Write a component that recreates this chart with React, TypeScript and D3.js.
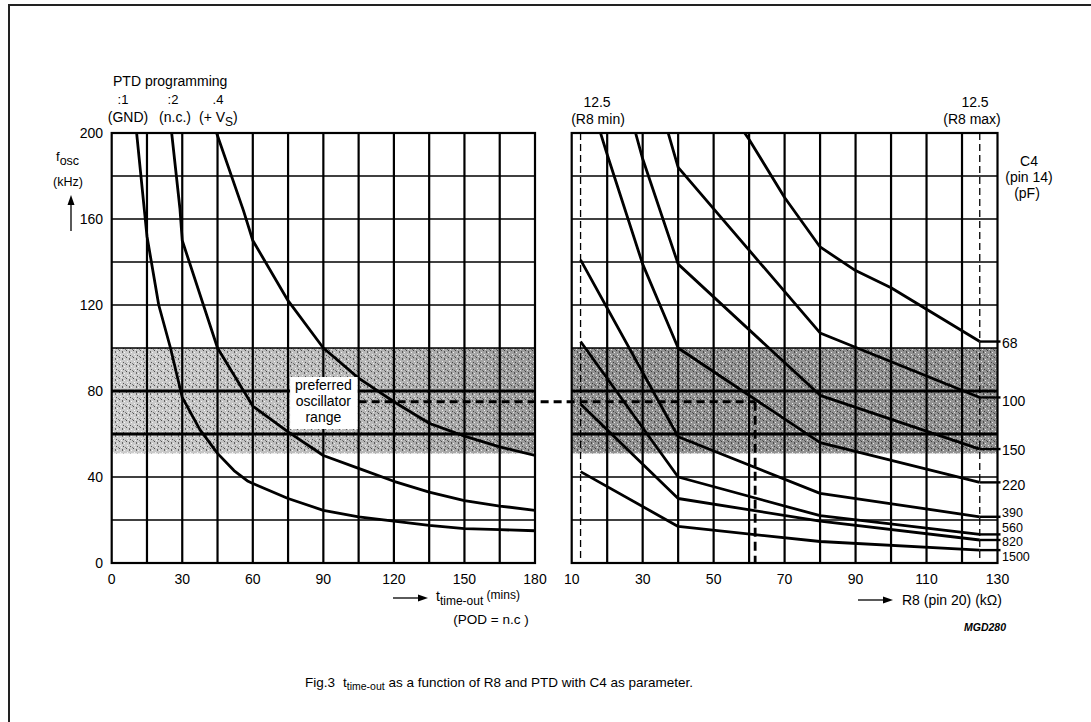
import React from "react";
import * as d3 from "d3";

// ---------- data ----------
const yTickValues = [0, 40, 80, 120, 160, 200];
const yGridValues = [20, 40, 60, 80, 100, 120, 140, 160, 180];
const leftTickValues = [0, 30, 60, 90, 120, 150, 180];
const leftGridValues = [15, 30, 45, 60, 75, 90, 105, 120, 135, 150, 165];
const rightTickValues = [10, 30, 50, 70, 90, 110, 130];
const rightGridValues = [20, 30, 40, 50, 60, 70, 80, 90, 100, 110, 120];

// left chart: f_osc (kHz) vs t_time-out (mins) for PTD programming
const ptd1: [number, number][] = [
  [10.6, 200], [15, 152], [20, 120], [25, 100], [30, 77], [37.5, 62], [45, 51], [52, 43], [58, 38], [60, 37],
  [75, 30], [90, 24.5], [105, 21.5], [120, 19.5], [135, 17.5], [150, 16], [165, 15.5], [180, 15],
];
const ptd2: [number, number][] = [
  [25.5, 200], [29, 165], [30, 150], [45, 100], [60, 73], [75, 61], [90, 50], [105, 44], [120, 38],
  [135, 33], [150, 29], [165, 26.5], [180, 24.5],
];
const ptd3: [number, number][] = [
  [44.6, 200], [56, 164], [60, 150], [75, 122], [90, 100], [105, 86], [120, 75], [135, 65], [150, 59],
  [165, 54], [180, 50],
];
const ptdCurves = [ptd1, ptd2, ptd3];
const ptdCodes = [":1", ":2", ".4"];

// right chart: f_osc (kHz) vs R8 (kOhm) for C4 values
const c68: [number, number][] = [[40, 245], [60, 197], [70, 170], [80, 147], [90, 136], [100, 128], [110, 118], [120, 108], [125, 103]];
const c100: [number, number][] = [[30, 241], [40, 184], [80, 107], [125, 77]];
const c150: [number, number][] = [[20, 243], [28, 200], [30, 188], [40, 139], [80, 78], [125, 53]];
const c220: [number, number][] = [[12.5, 230], [20, 190], [30, 139], [40, 100], [80, 56], [125, 37.5]];
const c390: [number, number][] = [[12.5, 141], [40, 58.7], [80, 32.4], [125, 21.5]];
const c560: [number, number][] = [[12.5, 103], [40, 40], [80, 22], [125, 13.3]];
const c820: [number, number][] = [[12.5, 74], [40, 30], [80, 19.5], [125, 10.7]];
const c1500: [number, number][] = [[12.5, 42.5], [40, 17], [80, 10], [125, 6]];
const c4Curves = [c68, c100, c150, c220, c390, c560, c820, c1500];
const c4Names = ["68", "100", "150", "220", "390", "560", "820", "1500"];
const c4LabelValues = [102.5, 75.5, 52.5, 36.5, 23.7, 16.7, 9.8, 2.8];

const band = [51, 100];
const bandLines = [60, 80];
const r8Min = 12.5;
const r8Max = 125;
const exampleT = 105;
const exampleF = 75;
const exampleR8 = 61.7;

// ---------- layout ----------
const W = 1091;
const H = 722;
const FONT = "'Liberation Sans', Arial, Helvetica, sans-serif";

const yS = d3.scaleLinear().domain([0, 200]).range([563, 133]);
const xL = d3.scaleLinear().domain([0, 180]).range([111.7, 535]);
const xR = d3.scaleLinear().domain([10, 130]).range([571.7, 997.5]);

const lineL = d3.line<[number, number]>().x((d) => xL(d[0])).y((d) => yS(d[1]));
const lineR = d3.line<[number, number]>().x((d) => xR(d[0])).y((d) => yS(d[1]));

export default function App() {
  const top = yS(200);
  const bot = yS(0);
  const lx0 = xL(0), lx1 = xL(180);
  const rx0 = xR(10), rx1 = xR(130);
  const bandTop = yS(band[1]);
  const bandBot = yS(band[0]);

  const txt = { fontFamily: FONT, fill: "#000" } as const;

  return (
    <svg width={W} height={H} style={{ position: "absolute", left: 0, top: 0, background: "#fff" }}>
      <defs>
        <linearGradient id="gradL" x1="0" x2="1" y1="0" y2="0">
          <stop offset="0" stopColor="#cdcdcd" />
          <stop offset="0.6" stopColor="#b8b8b8" />
          <stop offset="1" stopColor="#9a9a9a" />
        </linearGradient>
        <pattern id="stip" width="7" height="7" patternUnits="userSpaceOnUse">
          <rect x="0" y="0" width="1" height="1" fill="#000" opacity="0.6" />
          <rect x="3" y="1" width="1" height="2" fill="#000" opacity="0.5" />
          <rect x="5" y="2" width="1" height="1" fill="#fff" opacity="0.8" />
          <rect x="1" y="4" width="1" height="1" fill="#fff" opacity="0.8" />
          <rect x="4" y="5" width="1" height="1" fill="#000" opacity="0.6" />
          <rect x="6" y="6" width="1" height="1" fill="#000" opacity="0.4" />
          <rect x="2" y="6" width="1" height="1" fill="#fff" opacity="0.7" />
        </pattern>
        <clipPath id="clipL">
          <rect x={lx0} y={top} width={lx1 - lx0} height={bot - top} />
        </clipPath>
        <clipPath id="clipR">
          <rect x={rx0} y={top} width={rx1 - rx0} height={bot - top} />
        </clipPath>
      </defs>

      {/* outer frame */}
      <line x1={8} y1={5} x2={W} y2={5} stroke="#222" strokeWidth={2} />
      <line x1={9} y1={5} x2={9} y2={H} stroke="#222" strokeWidth={2} />

      {/* shaded preferred range */}
      <rect x={lx0} y={bandTop} width={lx1 - lx0} height={bandBot - bandTop} fill="url(#gradL)" />
      <rect x={lx0} y={bandTop} width={lx1 - lx0} height={bandBot - bandTop} fill="url(#stip)" />
      <rect x={rx0} y={bandTop} width={rx1 - rx0} height={bandBot - bandTop} fill="#929292" />
      <rect x={rx0} y={bandTop} width={rx1 - rx0} height={bandBot - bandTop} fill="url(#stip)" />

      {/* horizontal grid */}
      {yGridValues.map((v) => (
        <g key={"hg" + v}>
          <line x1={lx0} x2={lx1} y1={yS(v)} y2={yS(v)} stroke="#000" strokeWidth={bandLines.includes(v) ? 3 : 1.5} />
          <line x1={rx0} x2={rx1} y1={yS(v)} y2={yS(v)} stroke="#000" strokeWidth={bandLines.includes(v) ? 3 : 1.5} />
        </g>
      ))}
      {/* vertical grid */}
      {leftGridValues.map((v) => (
        <line key={"lv" + v} x1={xL(v)} x2={xL(v)} y1={top} y2={bot} stroke="#000" strokeWidth={2.2} />
      ))}
      {rightGridValues.map((v) => (
        <line key={"rv" + v} x1={xR(v)} x2={xR(v)} y1={top} y2={bot} stroke="#000" strokeWidth={2.2} />
      ))}

      {/* plot frames */}
      <rect x={lx0} y={top} width={lx1 - lx0} height={bot - top} fill="none" stroke="#000" strokeWidth={2.2} />
      <rect x={rx0} y={top} width={rx1 - rx0} height={bot - top} fill="none" stroke="#000" strokeWidth={2.2} />

      {/* R8 min / max dashed */}
      {[r8Min, r8Max].map((v) => (
        <line key={"r8" + v} x1={xR(v)} x2={xR(v)} y1={top} y2={bot} stroke="#000" strokeWidth={1.3} strokeDasharray="7,4" />
      ))}

      {/* curves */}
      <g clipPath="url(#clipL)">
        {ptdCurves.map((c, i) => (
          <path key={"p" + i} d={lineL(c) || ""} fill="none" stroke="#000" strokeWidth={2.8} strokeLinejoin="round" />
        ))}
      </g>
      <g clipPath="url(#clipR)">
        {c4Curves.map((c, i) => (
          <path key={"c" + i} d={lineR(c) || ""} fill="none" stroke="#000" strokeWidth={2.8} strokeLinejoin="round" />
        ))}
      </g>
      {/* curve end ticks to labels */}
      {c4Curves.map((c, i) => {
        const last = c[c.length - 1];
        return (
          <line key={"e" + i} x1={xR(last[0])} x2={rx1 + 3} y1={yS(last[1])} y2={yS(last[1])} stroke="#000" strokeWidth={2.4} />
        );
      })}

      {/* example construction */}
      <line x1={xL(exampleT)} x2={xR(exampleR8)} y1={yS(exampleF)} y2={yS(exampleF)} stroke="#000" strokeWidth={2.8} strokeDasharray="8,5" />
      <line x1={xR(exampleR8)} x2={xR(exampleR8)} y1={yS(exampleF)} y2={bot} stroke="#000" strokeWidth={2.8} strokeDasharray="9,5" />

      {/* preferred range box */}
      <rect x={xL(75) + 2} y={377} width={xL(105) - xL(75) - 3} height={52} fill="#fff" />
      <text {...txt} fontSize={14} textAnchor="middle">
        <tspan x={xL(90)} y={390}>preferred</tspan>
        <tspan x={xL(90)} y={406}>oscillator</tspan>
        <tspan x={xL(90)} y={422}>range</tspan>
      </text>

      {/* y ticks */}
      {yTickValues.map((v) => (
        <text key={"yt" + v} {...txt} fontSize={14} x={103} y={yS(v) + 5} textAnchor="end">{v}</text>
      ))}
      {/* x ticks */}
      {leftTickValues.map((v) => (
        <text key={"xl" + v} {...txt} fontSize={14} x={xL(v)} y={584} textAnchor="middle">{v}</text>
      ))}
      {rightTickValues.map((v) => (
        <text key={"xr" + v} {...txt} fontSize={14} x={xR(v)} y={584} textAnchor="middle">{v}</text>
      ))}

      {/* y axis title */}
      <text {...txt} fontSize={13} x={56} y={161}>
        f<tspan fontSize={12.5} dy={4}>osc</tspan>
      </text>
      <text {...txt} fontSize={12.5} x={68} y={186} textAnchor="middle">(kHz)</text>
      <line x1={71} x2={71} y1={231} y2={203} stroke="#000" strokeWidth={1.3} />
      <path d="M71,195 L67.5,205 L74.5,205 Z" fill="#000" />

      {/* PTD programming labels */}
      <text {...txt} fontSize={14} x={113} y={86}>PTD programming</text>
      {ptdCodes.map((c, i) => (
        <text key={"pc" + i} {...txt} fontSize={13} x={[123, 173, 218][i]} y={104} textAnchor="middle">{c}</text>
      ))}
      <text {...txt} fontSize={14} x={128} y={122} textAnchor="middle">(GND)</text>
      <text {...txt} fontSize={14} x={175} y={122} textAnchor="middle">(n.c.)</text>
      <text {...txt} fontSize={14} x={199} y={122}>
        (+ V<tspan fontSize={12} dy={4}>S</tspan><tspan dy={-4}>)</tspan>
      </text>

      {/* left x title */}
      <line x1={393} x2={419} y1={598} y2={598} stroke="#000" strokeWidth={1.3} />
      <path d="M428,598 L418,594.5 L418,601.5 Z" fill="#000" />
      <text {...txt} fontSize={14} x={436} y={601}>
        t<tspan fontSize={12} dy={4}>time-out</tspan><tspan fontSize={12} dy={-6}> (mins)</tspan>
      </text>
      <text {...txt} fontSize={13.5} x={491} y={624} textAnchor="middle">(POD = n.c )</text>

      {/* right x title */}
      <line x1={858} x2={884} y1={600} y2={600} stroke="#000" strokeWidth={1.3} />
      <path d="M893,600 L883,596.5 L883,603.5 Z" fill="#000" />
      <text {...txt} fontSize={14} x={902} y={605}>R8 (pin 20) (kΩ)</text>
      <text {...txt} fontSize={10.5} fontWeight="bold" fontStyle="italic" x={1006} y={631} textAnchor="end">MGD280</text>

      {/* R8 min / max labels */}
      <text {...txt} fontSize={14} x={597} y={107} textAnchor="middle">12.5</text>
      <text {...txt} fontSize={14} x={598} y={124} textAnchor="middle">(R8 min)</text>
      <text {...txt} fontSize={14} x={975} y={107} textAnchor="middle">12.5</text>
      <text {...txt} fontSize={14} x={972} y={124} textAnchor="middle">(R8 max)</text>

      {/* C4 title */}
      <text {...txt} fontSize={14} x={1029} y={166} textAnchor="middle">C4</text>
      <text {...txt} fontSize={14} x={1029} y={182} textAnchor="middle">(pin 14)</text>
      <text {...txt} fontSize={14} x={1027} y={198} textAnchor="middle">(pF)</text>
      {c4Names.map((n, i) => (
        <text key={"cl" + n} {...txt} fontSize={i >= 4 ? 12.5 : 14} x={1002} y={yS(c4LabelValues[i]) + (i >= 4 ? 4.5 : 5)}>{n}</text>
      ))}

      {/* caption */}
      <text {...txt} fontSize={13.5} x={305} y={687}>
        Fig.3<tspan dx={8}>t</tspan><tspan fontSize={10.5} dy={3}>time-out</tspan><tspan dy={-3}> as a function of R8 and PTD with C4 as parameter.</tspan>
      </text>
    </svg>
  );
}
